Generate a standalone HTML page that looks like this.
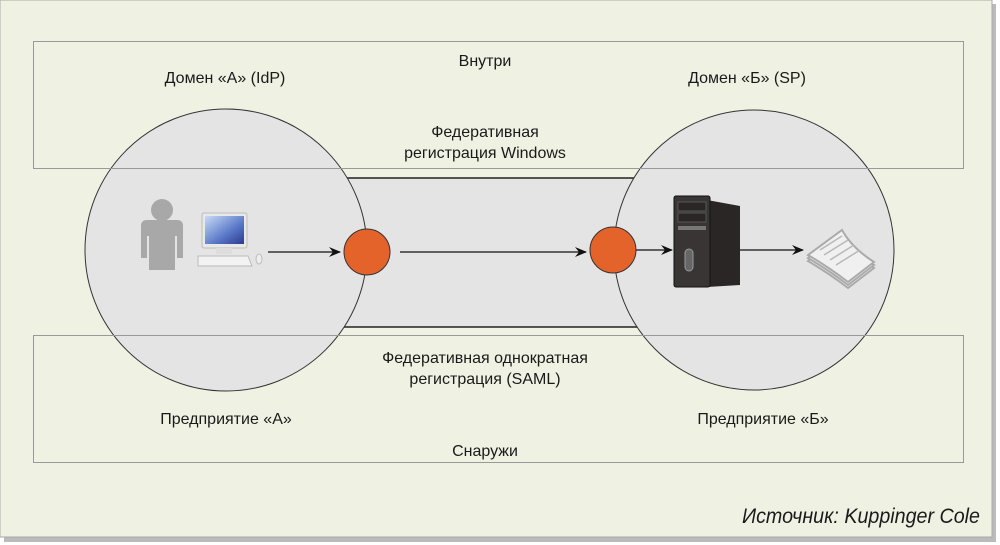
<!DOCTYPE html>
<html><head><meta charset="utf-8"><style>
html,body{margin:0;padding:0;background:#fff;}
svg{display:block}
text{font-family:"Liberation Sans",sans-serif;font-size:16px;fill:#1a1a1a}
</style></head><body>
<svg width="1000" height="545" viewBox="0 0 1000 545">
<defs>
<linearGradient id="scr" x1="0" y1="0" x2="1" y2="1"><stop offset="0" stop-color="#c8dcf4"/><stop offset="0.6" stop-color="#5a78c8"/><stop offset="1" stop-color="#2a3a90"/></linearGradient>
<marker id="ar" viewBox="0 0 12 10" refX="11" refY="5" markerWidth="12" markerHeight="10" markerUnits="userSpaceOnUse" orient="auto"><path d="M0,0 L12,5 L0,10 L4,5Z" fill="#111"/></marker>
</defs>
<rect x="4" y="4" width="992" height="538" fill="#bbb"/>
<rect x="0" y="0" width="992" height="537" fill="#eff2e3" stroke="#aaa" stroke-width="1"/>
<rect x="330" y="178" width="330" height="149" fill="#e4e4e4" stroke="#222" stroke-width="1.5"/>
<circle cx="226" cy="250" r="141" fill="#e4e4e4" stroke="#333" stroke-width="1"/>
<circle cx="754" cy="250" r="140" fill="#e4e4e4" stroke="#333" stroke-width="1"/>
<rect x="33.5" y="41.5" width="930" height="127" fill="none" stroke="#999"/>
<rect x="33.5" y="335.5" width="930" height="127" fill="none" stroke="#999"/>
<!-- person -->
<circle cx="162" cy="210" r="11" fill="#a8a8a8"/>
<path d="M141,226 Q141,220 147,220 L177,220 Q183,220 183,226 L183,258 L177,258 L177,236 L175,236 L175,270 L149,270 L149,236 L147,236 L147,258 L141,258Z" fill="#a8a8a8"/>
<!-- computer -->
<rect x="202" y="213" width="45" height="35" rx="2" fill="#e8e8e8" stroke="#bbb"/>
<rect x="205" y="216" width="39" height="28" fill="url(#scr)"/>
<rect x="216" y="248" width="16" height="6" fill="#ddd"/>
<path d="M198,256 L248,256 L252,266 L198,266Z" fill="#f2f2f2" stroke="#bbb"/>
<ellipse cx="259" cy="259" rx="3" ry="5" fill="#eee" stroke="#bbb"/>
<line x1="268" y1="252" x2="340" y2="252" stroke="#111" stroke-width="1.2" marker-end="url(#ar)"/>
<line x1="400" y1="252" x2="586" y2="252" stroke="#111" stroke-width="1.2" marker-end="url(#ar)"/>
<line x1="636" y1="250" x2="672" y2="250" stroke="#111" stroke-width="1.2" marker-end="url(#ar)"/>
<line x1="740" y1="250" x2="803" y2="250" stroke="#111" stroke-width="1.2" marker-end="url(#ar)"/>
<circle cx="367" cy="252" r="23" fill="#e4632b" stroke="#333"/>
<circle cx="613" cy="250" r="23" fill="#e4632b" stroke="#333"/>
<!-- server -->
<path d="M707,200 L740,206 L740,285 L707,287Z" fill="#2a2626"/>
<rect x="674" y="196" width="36" height="91" rx="2" fill="#3a3535" stroke="#111"/>
<rect x="678" y="202" width="28" height="9" fill="#2a2626" stroke="#555"/>
<rect x="678" y="213" width="28" height="9" fill="#2a2626" stroke="#555"/>
<rect x="678" y="226" width="28" height="4" fill="#777"/>
<rect x="685" y="249" width="8" height="22" rx="4" fill="#666" stroke="#999"/>
<!-- papers -->
<g fill="#f0f0f0" stroke="#aaa" stroke-width="2">
<path d="M808,255 L842,230 Q852,248 874,262 L848,282 Q830,268 808,255Z" transform="translate(0,6)"/>
<path d="M808,255 L842,230 Q852,248 874,262 L848,282 Q830,268 808,255Z" transform="translate(0,3)"/>
<path d="M808,255 L842,230 Q852,248 874,262 L848,282 Q830,268 808,255Z"/>
</g>
<g stroke="#b8b8b8" stroke-width="1.5"><line x1="820" y1="250" x2="842" y2="236"/><line x1="824" y1="255" x2="848" y2="240"/><line x1="830" y1="260" x2="854" y2="245"/><line x1="836" y1="265" x2="860" y2="250"/></g>
<g text-anchor="middle">
<text x="485" y="66">Внутри</text>
<text x="225" y="83">Домен «А» (IdP)</text>
<text x="747" y="83">Домен «Б» (SP)</text>
<text x="485" y="137">Федеративная</text>
<text x="485" y="158">регистрация Windows</text>
<text x="485" y="363">Федеративная однократная</text>
<text x="485" y="384">регистрация (SAML)</text>
<text x="226" y="424">Предприятие «А»</text>
<text x="763" y="424">Предприятие «Б»</text>
<text x="485" y="456">Снаружи</text>
</g>
<text x="980" y="523" text-anchor="end" style="font-style:italic;font-size:21px" textLength="238" lengthAdjust="spacingAndGlyphs">Источник: Kuppinger Cole</text>
</svg>
</body></html>
